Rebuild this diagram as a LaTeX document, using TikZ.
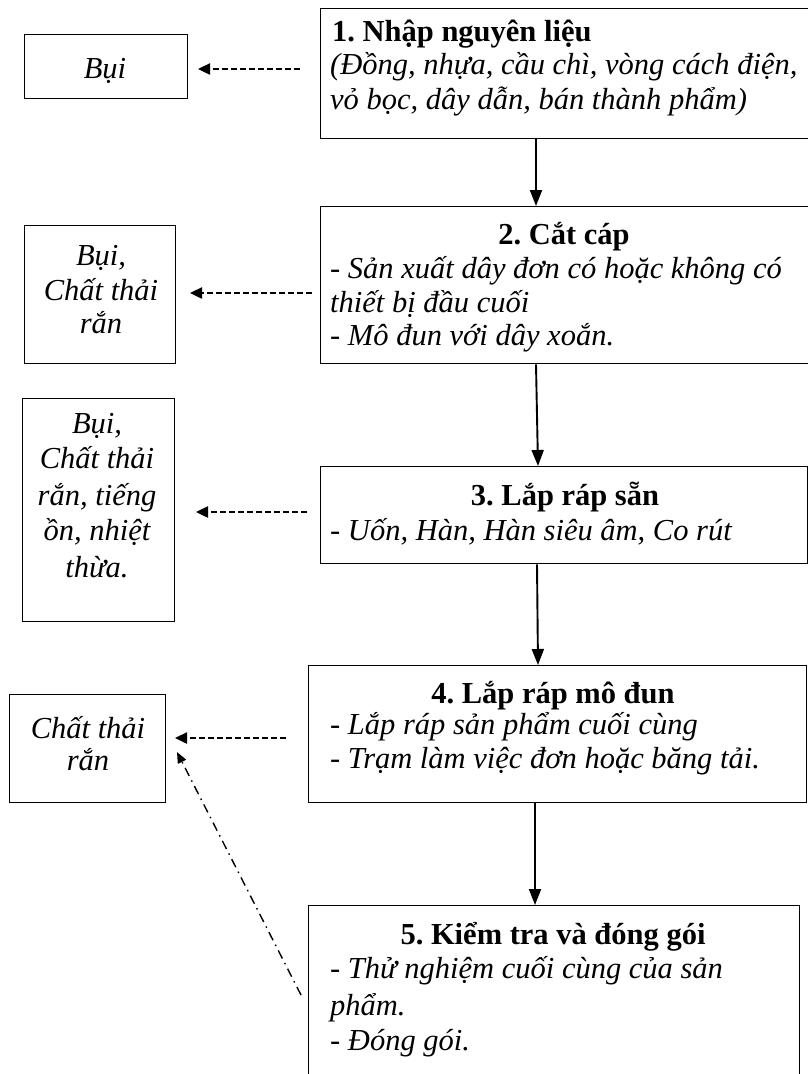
\documentclass[tikz,border=0pt]{standalone}
\usepackage{fontspec}
\setmainfont{Liberation Serif}
\usetikzlibrary{arrows.meta}
\frenchspacing
\begin{document}
\begin{tikzpicture}[x=1pt,y=-1pt,
  box/.style={draw, line width=1.4pt, rectangle, inner sep=0pt, anchor=north west},
  it/.style={inner sep=0pt, font=\fontsize{30.5}{35}\selectfont\itshape},
  bf/.style={inner sep=0pt, font=\fontsize{30.5}{35}\selectfont\bfseries},
  flow/.style={line width=1.9pt, -{Triangle[length=16pt,width=12pt]}},
  emit/.style={line width=2.4pt, dash pattern=on 6pt off 3pt, -{Triangle[length=12pt,width=11pt]}},
  emitdd/.style={line width=1.4pt, dash pattern=on 9pt off 5pt on 1.5pt off 5pt, -{Triangle[length=11pt,width=9pt]}}
]
\path[use as bounding box] (0,0) rectangle (808,1074);
\clip (0,0) rectangle (808,1074);

% main boxes
\node[box, minimum width=500pt, minimum height=130pt] (b1) at (320,8) {};
\node[box, minimum width=500pt, minimum height=157pt] (b2) at (320,206) {};
\node[box, minimum width=487pt, minimum height=97pt] (b3) at (320,466) {};
\node[box, minimum width=498pt, minimum height=137pt] (b4) at (308,665) {};
\node[box, minimum width=491pt, minimum height=200pt] (b5) at (308,905) {};

% side boxes
\node[box, minimum width=163pt, minimum height=64pt] (l1) at (24,34) {};
\node[box, minimum width=151pt, minimum height=138pt] (l2) at (24,225) {};
\node[box, minimum width=152pt, minimum height=223pt] (l3) at (22,398) {};
\node[box, minimum width=156pt, minimum height=108pt] (l4) at (9,694) {};

% texts box 1
\node[bf, anchor=base west] (t1a) at (332,41) {1. Nhập nguyên liệu};
\node[it, anchor=base west] (t1b) at (330,74) {(Đồng, nhựa, cầu chì, vòng cách điện,};
\node[it, anchor=base west] (t1c) at (330,109) {vỏ bọc, dây dẫn, bán thành phẩm)};
% box 2
\node[bf, anchor=base] (t2a) at (564,244) {2. Cắt cáp};
\node[it, anchor=base west] (t2b) at (330,278) {- Sản xuất dây đơn có hoặc không có};
\node[it, anchor=base west] (t2c) at (330,312) {thiết bị đầu cuối};
\node[it, anchor=base west] (t2d) at (330,345) {- Mô đun với dây xoắn.};
% box 3
\node[bf, anchor=base] (t3a) at (565,505) {3. Lắp ráp sẵn};
\node[it, anchor=base west] (t3b) at (330,540) {- Uốn, Hàn, Hàn siêu âm, Co rút};
% box 4
\node[bf, anchor=base] (t4a) at (553,703) {4. Lắp ráp mô đun};
\node[it, anchor=base west] (t4b) at (330,734) {- Lắp ráp sản phẩm cuối cùng};
\node[it, anchor=base west] (t4c) at (330,768) {- Trạm làm việc đơn hoặc băng tải.};
% box 5
\node[bf, anchor=base] (t5a) at (553,944) {5. Kiểm tra và đóng gói};
\node[it, anchor=base west] (t5b) at (330,978) {- Thử nghiệm cuối cùng của sản};
\node[it, anchor=base west] (t5c) at (330,1015) {phẩm.};
\node[it, anchor=base west] (t5d) at (330,1050) {- Đóng gói.};

% side texts
\node[it, anchor=base] (s1) at (105,78) {Bụi};
\node[it, anchor=base] (s2a) at (101,265) {Bụi,};
\node[it, anchor=base] (s2b) at (101,300) {Chất thải};
\node[it, anchor=base] (s2c) at (101,333) {rắn};
\node[it, anchor=base] (s3a) at (97,433) {Bụi,};
\node[it, anchor=base] (s3b) at (97,468) {Chất thải};
\node[it, anchor=base] (s3c) at (97,505) {rắn, tiếng};
\node[it, anchor=base] (s3d) at (97,540) {ồn, nhiệt};
\node[it, anchor=base] (s3e) at (97,577) {thừa.};
\node[it, anchor=base] (s4a) at (88,738) {Chất thải};
\node[it, anchor=base] (s4b) at (88,770) {rắn};

% flow arrows
\draw[flow] (536,0 |- b1.south) -- (536,0 |- b2.north);
\draw[flow] (536,0 |- b2.south) -- (538,0 |- b3.north);
\draw[flow] (537,0 |- b3.south) -- (538,0 |- b4.north);
\draw[flow] (535,0 |- b4.south) -- (535,0 |- b5.north);

% emission arrows
\coordinate (e1s) at (300,69);  \coordinate (e1e) at (198,69);
\coordinate (e2s) at (312,293); \coordinate (e2e) at (190,293);
\coordinate (e3s) at (307,512); \coordinate (e3e) at (196,512);
\coordinate (e4s) at (286,738); \coordinate (e4e) at (175,738);
\coordinate (e5s) at (301,995); \coordinate (e5e) at (177,752);
\draw[emit] (e1s) -- (e1e);
\draw[emit] (e2s) -- (e2e);
\draw[emit] (e3s) -- (e3e);
\draw[emit] (e4s) -- (e4e);
\draw[emitdd] (e5s) -- (e5e);
\end{tikzpicture}
\end{document}
